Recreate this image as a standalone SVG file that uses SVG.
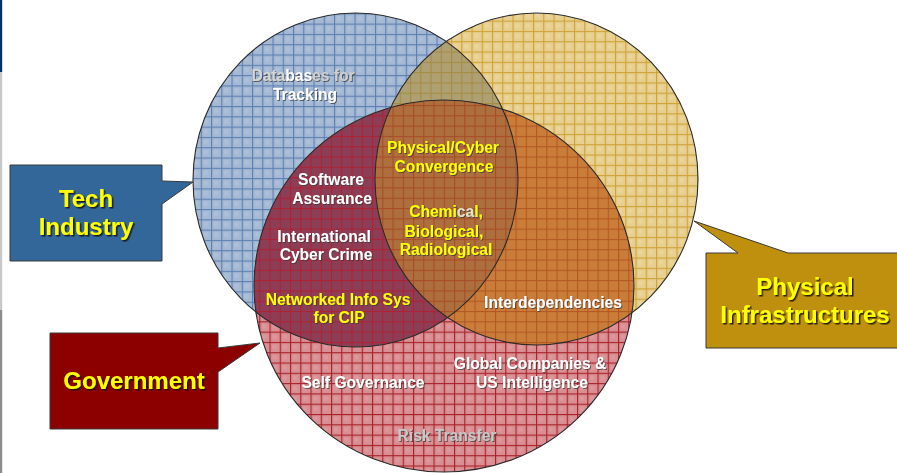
<svg xmlns="http://www.w3.org/2000/svg" width="897" height="473" viewBox="0 0 897 473">
<style>
.lbl{font-family:"Liberation Sans",Arial,sans-serif;font-weight:bold;font-size:15.6px;text-anchor:middle;filter:url(#sh)}
.w{fill:#ffffff}
.y{fill:#ffff00}
.g{fill:#c8c8c8}
.big{font-family:"Liberation Sans",Arial,sans-serif;font-weight:bold;font-size:24px;text-anchor:middle;fill:#ffff00;filter:url(#sh2)}
.ring{fill:none;stroke:#2a2a2a;stroke-width:1.1}
.box{stroke:#3a3a3a;stroke-width:1}
</style>
<defs>
<filter id="sh" x="-10%" y="-30%" width="130%" height="170%">
<feDropShadow dx="1" dy="1" stdDeviation="0.3" flood-color="#3a3a3a" flood-opacity="0.75"/>
</filter>
<filter id="sh2" x="-10%" y="-30%" width="130%" height="170%">
<feDropShadow dx="1.5" dy="1.5" stdDeviation="0.3" flood-color="#111" flood-opacity="0.85"/>
</filter>
<pattern id="pB" patternUnits="userSpaceOnUse" x="6" y="3" width="10.25" height="10.3">
<rect width="10.25" height="10.3" fill="#a6b9d4"/><rect x="3" y="3" width="4" height="4" fill="#b3c4dc" opacity="0.6"/>
<rect width="10.25" height="1.1" fill="#5a7fb1"/><rect width="1.1" height="10.3" fill="#5a7fb1"/>
</pattern>
<pattern id="pY" patternUnits="userSpaceOnUse" x="0" y="0" width="10.25" height="10.3">
<rect width="10.25" height="10.3" fill="#e7cf90"/><rect x="3" y="3" width="4" height="4" fill="#eed9a2" opacity="0.6"/>
<rect width="10.25" height="1.1" fill="#cfa234"/><rect width="1.1" height="10.3" fill="#cfa234"/>
</pattern>
<pattern id="pR" patternUnits="userSpaceOnUse" x="3" y="2" width="10.25" height="10.3">
<rect width="10.25" height="10.3" fill="#d88e92"/><rect x="3" y="3" width="4" height="4" fill="#e19fa2" opacity="0.6"/>
<rect width="10.25" height="1.1" fill="#a92028"/><rect width="1.1" height="10.3" fill="#a92028"/>
</pattern>
<pattern id="pBR" patternUnits="userSpaceOnUse" x="3" y="2" width="10.25" height="10.3">
<rect width="10.25" height="10.3" fill="#8c3e57"/>
<rect width="10.25" height="1.1" fill="#ad2233"/><rect width="1.1" height="10.3" fill="#ad2233"/>
</pattern>
<pattern id="pBY" patternUnits="userSpaceOnUse" x="0" y="0" width="10.25" height="10.3">
<rect width="10.25" height="10.3" fill="#aea072"/>
<rect width="10.25" height="1.1" fill="#a68c44"/><rect width="1.1" height="10.3" fill="#a68c44"/>
</pattern>
<pattern id="pRY" patternUnits="userSpaceOnUse" x="3" y="2" width="10.25" height="10.3">
<rect width="10.25" height="10.3" fill="#c97d38"/>
<rect width="10.25" height="1.1" fill="#b55724"/><rect width="1.1" height="10.3" fill="#b55724"/>
</pattern>
<pattern id="pT" patternUnits="userSpaceOnUse" x="3" y="2" width="10.25" height="10.3">
<rect width="10.25" height="10.3" fill="#ae6f3e"/>
<rect width="10.25" height="1.1" fill="#a94c25"/><rect width="1.1" height="10.3" fill="#a94c25"/>
</pattern>
<clipPath id="cB"><ellipse cx="355.5" cy="180" rx="162.5" ry="167"/></clipPath>
<clipPath id="cY"><ellipse cx="536.5" cy="179" rx="161.5" ry="166"/></clipPath>
<clipPath id="cR"><ellipse cx="444" cy="286" rx="190" ry="186"/></clipPath>
</defs>

<rect width="897" height="473" fill="#ffffff"/>
<rect x="0" y="0" width="2.2" height="72" fill="#003366"/>
<rect x="0" y="72" width="2.2" height="238" fill="#c8c8c8"/>
<rect x="0" y="310" width="2.2" height="163" fill="#8c8c8c"/>

<g id="venn">
<g id="circle-tech"><ellipse cx="355.5" cy="180" rx="162.5" ry="167" fill="url(#pB)"/></g>
<g id="circle-physical"><ellipse cx="536.5" cy="179" rx="161.5" ry="166" fill="url(#pY)"/></g>
<g id="circle-government"><ellipse cx="444" cy="286" rx="190" ry="186" fill="url(#pR)"/></g>
<g id="overlap-tech-physical" clip-path="url(#cB)"><ellipse cx="536.5" cy="179" rx="161.5" ry="166" fill="url(#pBY)"/></g>
<g id="overlap-tech-government" clip-path="url(#cB)"><ellipse cx="444" cy="286" rx="190" ry="186" fill="url(#pBR)"/></g>
<g id="overlap-physical-government" clip-path="url(#cY)"><ellipse cx="444" cy="286" rx="190" ry="186" fill="url(#pRY)"/></g>
<g id="overlap-all" clip-path="url(#cY)"><g clip-path="url(#cB)"><ellipse cx="444" cy="286" rx="190" ry="186" fill="url(#pT)"/></g></g>
<g id="outlines">
<ellipse class="ring" cx="355.5" cy="180" rx="162.5" ry="167"/>
<ellipse class="ring" cx="536.5" cy="179" rx="161.5" ry="166"/>
<ellipse class="ring" cx="444" cy="286" rx="190" ry="186"/>
</g>
</g>

<g id="labels">
<text class="lbl g" x="303" y="81"><tspan fill="#d6d6d6">Data</tspan><tspan fill="#ffffff">bas</tspan><tspan fill="#cfcfcf">es for</tspan></text>
<text class="lbl w" x="305" y="100">Tracking</text>
<text class="lbl w" x="331" y="185">Software</text>
<text class="lbl w" x="332" y="204">Assurance</text>
<text class="lbl w" x="324" y="242">International</text>
<text class="lbl w" x="326" y="260">Cyber Crime</text>
<text class="lbl y" x="338" y="305">Networked Info Sys</text>
<text class="lbl y" x="339" y="323">for CIP</text>
<text class="lbl y" x="443" y="153">Physical/Cyber</text>
<text class="lbl y" x="444" y="172">Convergence</text>
<text class="lbl y" x="446" y="217">Chemi<tspan fill="#e2e2c8">ca</tspan>l,</text>
<text class="lbl y" x="444" y="237">Biological,</text>
<text class="lbl y" x="446" y="255">Radiological</text>
<text class="lbl w" x="553" y="308">Interdependencies</text>
<text class="lbl w" x="530" y="369">Global Companies &amp;</text>
<text class="lbl w" x="532" y="388">US Intelligence</text>
<text class="lbl w" x="363" y="388">Self Governance</text>
<text class="lbl g" x="447" y="441">Risk Transfer</text>
</g>

<g id="callout-tech">
<path class="box" d="M10,165 H162 V181 L193,182 L162,204 V261 H10 Z" fill="#336699"/>
<text class="big" x="86" y="207">Tech</text>
<text class="big" x="86" y="235">Industry</text>
</g>
<g id="callout-government">
<path class="box" d="M50,333 H218 V348 L260,343 L218,372 V429 H50 Z" fill="#8c0000"/>
<text class="big" x="134" y="389">Government</text>
</g>
<g id="callout-physical">
<path class="box" d="M706,253 H738 L694,221 L788,253 H900 V348 H706 Z" fill="#bf8f0e"/>
<text class="big" x="805" y="295">Physical</text>
<text class="big" x="805" y="323">Infrastructures</text>
</g>
</svg>
